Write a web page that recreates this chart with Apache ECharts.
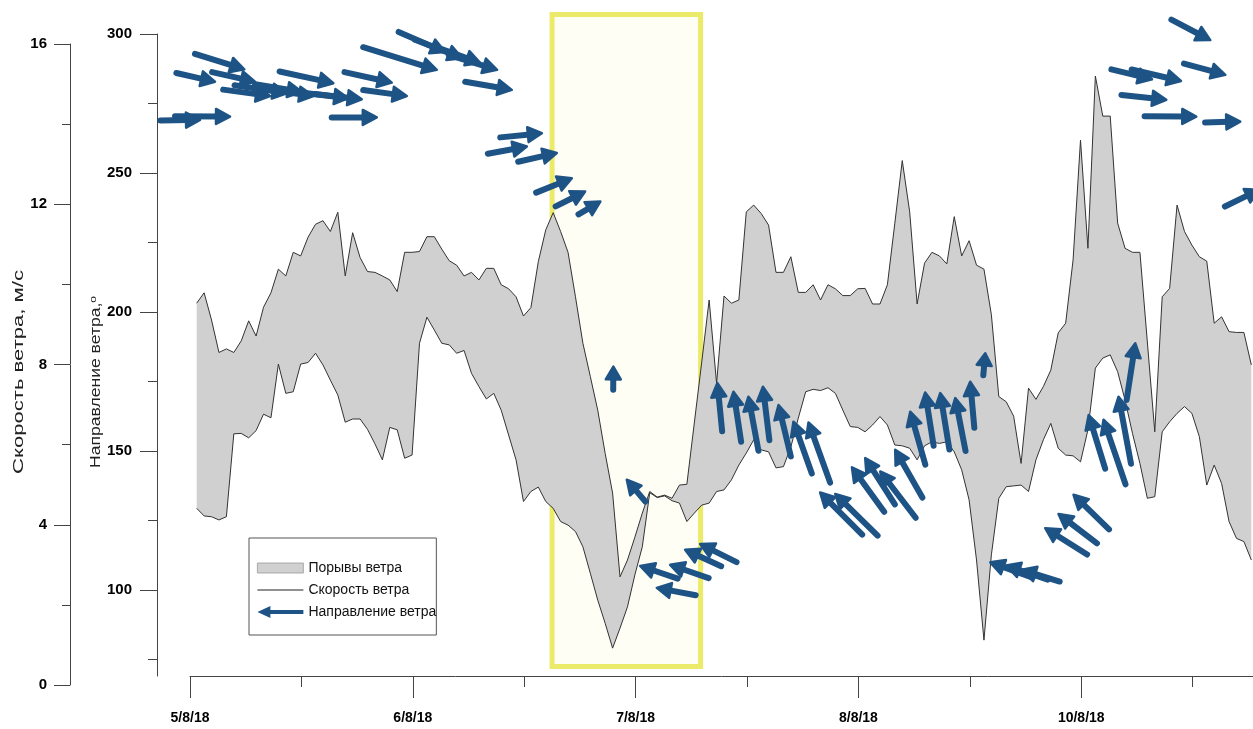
<!DOCTYPE html>
<html>
<head>
<meta charset="utf-8">
<script src="https://cdn.jsdelivr.net/npm/echarts@6/dist/echarts.min.js"></script>
<style>html,body{margin:0;padding:0;background:#fff}#chart{width:1253px;height:729px}</style>
</head>
<body>
<div id="chart"></div>
<script>
// ---------------- data ----------------
const dayLabels = ['5/8/18', '6/8/18', '7/8/18', '8/8/18', '10/8/18'];
const dayTickHours = [0, 24, 48, 72, 96];
const halfDayTickHours = [12, 36, 60, 84, 108];
const dirTicks = [100, 150, 200, 250, 300];
const dirMinorTicks = [75, 125, 175, 225, 275];
const speedTitle = 'Скорость ветра, м/с';
const dirTitle = 'Направление ветра,';
const dirTitleSup = 'о';
const START_H = 0.72;   // first sample, hours after 5/8/18 00:00
const STEP_H = 0.8;     // sampling step, hours

// wind gusts, m/s
const gust = [9.53,9.79,9.11,8.30,8.39,8.30,8.59,9.09,8.71,9.43,
9.79,10.38,10.21,10.80,10.71,11.18,11.50,11.59,11.32,11.80,
10.21,11.29,10.67,10.32,10.30,10.21,10.11,9.82,10.80,10.80,
10.82,11.19,11.19,10.88,10.59,10.48,10.21,10.30,10.11,10.40,
10.40,9.99,9.89,9.69,9.21,9.42,10.57,11.36,11.79,11.32,
10.80,9.69,8.53,7.70,6.86,5.78,4.79,2.70,3.12,3.69,
4.29,4.83,4.69,4.74,4.66,4.99,5.01,6.54,8.06,9.61,
7.53,9.71,9.53,9.61,11.81,11.98,11.77,11.48,10.30,10.30,
10.69,9.80,9.80,9.99,9.61,9.99,9.89,9.72,9.72,9.89,
9.90,9.51,9.51,9.99,11.53,13.09,11.81,9.51,10.53,10.80,
10.71,10.51,11.69,10.71,11.09,10.48,10.38,9.24,7.20,7.07,
6.71,5.53,7.41,7.13,7.45,7.86,8.79,9.03,10.61,13.60,
10.90,15.20,14.20,14.20,11.53,10.90,10.80,10.80,8.56,6.32,
9.69,9.90,11.98,11.32,10.98,10.69,10.58,9.03,9.19,8.82,
8.80,8.80,7.99];

// wind speed, m/s
const speed = [4.41,4.22,4.20,4.12,4.20,6.27,6.28,6.17,6.35,6.76,
6.67,8.01,7.28,7.32,8.01,8.05,8.28,7.99,7.61,7.24,
6.56,6.64,6.64,6.38,6.02,5.62,6.43,6.37,5.66,5.74,
8.53,9.18,8.86,8.53,8.49,8.28,8.35,7.78,7.45,7.14,
7.28,6.86,6.24,5.62,4.58,4.83,4.94,4.58,4.41,4.08,
3.99,3.83,3.45,2.79,2.12,1.54,0.92,1.42,1.95,2.75,
3.45,4.80,4.68,4.72,4.60,4.54,4.08,4.29,4.49,4.54,
4.83,4.87,5.12,5.49,5.79,6.12,5.87,5.82,5.42,5.45,
5.94,6.66,7.32,7.38,7.35,7.42,7.28,6.86,6.45,6.43,
6.32,6.49,6.70,6.49,5.99,5.97,5.91,5.62,5.97,6.07,
6.03,6.07,5.82,5.37,4.62,3.12,1.12,3.25,4.66,4.95,
4.97,4.99,4.83,5.62,6.12,6.53,5.91,5.74,5.72,5.57,
6.37,7.91,8.16,8.24,7.82,7.11,6.28,5.53,4.66,4.70,
6.32,6.57,6.78,6.95,6.78,6.20,4.99,5.49,5.03,4.08,
3.66,3.58,3.12];

// wind direction arrows: [hour, direction (deg), arrow magnitude]
const windArrows = [
[1.08,269.1,3.6],[4.31,270.3,5.0],[5.85,287.3,4.7],[2.69,282.8,3.6],[7.0,282.8,4.0],
[8.62,277.7,4.3],[10.42,278.7,4.8],[12.04,279.2,4.3],[13.28,277.7,4.5],[15.44,282.3,5.0],
[17.06,276.9,4.0],[18.5,276.5,4.3],[21.73,282.5,4.4],[23.35,277.7,4.0],[20.12,270.0,4.1],
[26.58,287.1,7.0],[27.47,293.5,4.6],[29.31,291.3,4.6],[31.25,289.6,4.6],[33.08,287.1,4.6],
[34.66,279.9,4.3],[37.9,264.3,3.8],[36.28,259.5,3.6],[39.51,257.2,3.6],[41.13,248.1,3.5],
[42.56,243.3,3.0],[44.2,239.7,2.3],
[45.6,180.3,2.1],[47.05,139.6,2.6],[48.49,108.6,3.6],[51.72,109.0,3.7],[50.28,100.7,3.6],
[53.33,114.4,3.6],[54.95,116.5,3.7],
[56.81,174.4,4.4],[58.54,171.3,4.6],[60.15,169.5,5.0],[61.71,173.1,4.9],[63.39,166.5,4.8],
[65.0,160.5,5.0],[66.62,160.2,5.8],[67.88,135.0,5.4],[69.5,134.5,5.4],[71.3,144.1,5.0],
[72.73,147.4,5.0],[74.35,142.6,5.3],[75.96,150.4,5.0],[77.58,164.1,5.0],[79.19,171.0,4.9],
[80.81,170.8,5.2],[82.43,169.0,4.9],[84.04,174.9,4.2],[85.66,185.1,2.0],
[86.2,109.9,4.1],[87.9,108.8,4.0],[89.6,107.2,3.6],[92.12,122.2,4.5],[93.55,127.3,4.4],
[95.17,134.2,4.5],[96.8,162.9,5.1],[98.4,161.2,6.2],[100.02,169.5,6.2],[101.82,188.7,5.2],
[109.9,297.8,4.0],[103.62,283.7,3.8],[106.74,283.1,4.6],[111.52,285.3,3.9],[105.16,276.3,4.1],
[108.39,270.3,4.7],[113.13,268.5,3.2],[115.2,244.0,3.5]
];

const highlightHours = [39, 55];   // highlighted period

// ---------------- layout / style constants ----------------
const X_MAX = 114.5;
const DIR_MIN = 69;
const ARROW_PX = 11;     // pixels per arrow-magnitude unit
const HEAD_LEN = 14, HEAD_HALF = 7.5, SHAFT_W = 6;
const ARROW_COLOR = '#1e5385';
const BAND_COLOR = '#d0d0d0';
const AXIS_COLOR = '#444';
const SANS = "'Liberation Sans', Arial, sans-serif";

// stretched axis titles (as in the original figure)
const SPEED_TITLE_FONT = 14.5, DIR_TITLE_FONT = 14, DIR_SUP_FONT = 9.5;
const SPEED_TITLE_LEN = 204, DIR_TITLE_LEN = 172;
const mctx = document.createElement('canvas').getContext('2d');
function textW(t, size) { mctx.font = size + 'px ' + SANS; return mctx.measureText(t).width; }
const speedTitleScale = SPEED_TITLE_LEN / textW(speedTitle, SPEED_TITLE_FONT);
const dirTitleScale = DIR_TITLE_LEN / (textW(dirTitle, DIR_TITLE_FONT) + textW(dirTitleSup, DIR_SUP_FONT));

const sampleHours = speed.map((_, i) => START_H + i * STEP_H);
const gustData = sampleHours.map((t, i) => [t, gust[i]]);
const speedData = sampleHours.map((t, i) => [t, speed[i]]);
const bandData = sampleHours.map((t, i) => [t, gust[i], speed[i]]);

const chart = echarts.init(document.getElementById('chart'), null, {renderer: 'canvas'});

const hiddenX = (gridIndex) => ({
  type: 'value', gridIndex, min: 0, max: X_MAX, show: false, splitLine: {show: false}
});

const option = {
  animation: false,
  backgroundColor: '#fff',
  grid: [
    {left: 190, right: 0, top: 44, bottom: 44, containLabel: false, outerBoundsMode: 'none'},
    {left: 190, right: 0, top: 34, bottom: 53, containLabel: false, outerBoundsMode: 'none'},
    {left: 190, right: 0, top: 14.5, bottom: 62.5, containLabel: false, outerBoundsMode: 'none'}
  ],
  graphic: [
    {
      type: 'text', x: 18.5, y: 372, rotation: Math.PI / 2, scaleX: speedTitleScale, silent: true,
      style: {
        text: speedTitle, fill: '#222', fontFamily: SANS, fontSize: SPEED_TITLE_FONT,
        font: SPEED_TITLE_FONT + 'px ' + SANS,
        align: 'center', verticalAlign: 'middle', textAlign: 'center', textVerticalAlign: 'middle'
      }
    },
    {
      type: 'text', x: 96, y: 382, rotation: Math.PI / 2, scaleX: dirTitleScale, silent: true,
      style: {
        text: dirTitle + '{sup|' + dirTitleSup + '}', fill: '#222', fontFamily: SANS, fontSize: DIR_TITLE_FONT,
        font: DIR_TITLE_FONT + 'px ' + SANS,
        align: 'center', verticalAlign: 'middle', textAlign: 'center', textVerticalAlign: 'middle',
        rich: {sup: {fontFamily: SANS, fontSize: DIR_SUP_FONT, fill: '#222', verticalAlign: 'top', lineHeight: 16}}
      }
    }
  ],
  legend: {
    orient: 'vertical',
    left: 249, top: 538,
    padding: [23, 0, 16, 8],
    itemGap: 8,
    itemWidth: 46, itemHeight: 12,
    borderColor: '#555', borderWidth: 1,
    backgroundColor: '#fff',
    selectedMode: false,
    textStyle: {fontFamily: SANS, fontSize: 14, color: '#111'},
    data: [
      {name: 'Порывы ветра', icon: 'path://M0,0M0,1L46,1L46,11L0,11ZM46,12', itemStyle: {color: BAND_COLOR, borderColor: '#9a9a9a', borderWidth: 0.8}},
      {name: 'Скорость ветра', icon: 'path://M0,0M0,5.5L46,5.5L46,6.5L0,6.5ZM46,12', itemStyle: {color: '#222', borderWidth: 0}},
      {name: 'Направление ветра', icon: 'path://M0,6L13,0L13,4L46,4L46,8L13,8L13,12Z', itemStyle: {color: ARROW_COLOR, borderWidth: 0}}
    ]
  },
  xAxis: [
    hiddenX(0),
    {
      type: 'value', gridIndex: 1, min: 0, max: X_MAX, position: 'bottom',
      axisLine: {show: true, onZero: false, lineStyle: {color: AXIS_COLOR, width: 1}},
      axisTick: {show: true, length: 22, customValues: dayTickHours, lineStyle: {color: AXIS_COLOR}},
      axisLabel: {
        show: true, customValues: dayTickHours, margin: 35,
        fontFamily: SANS, fontWeight: 'bold', fontSize: 14, color: '#000',
        formatter: (v) => { const k = dayTickHours.indexOf(v); return k >= 0 ? dayLabels[k] : ''; }
      },
      splitLine: {show: false}
    },
    {
      type: 'value', gridIndex: 1, min: 0, max: X_MAX, position: 'bottom',
      axisLine: {show: false, onZero: false},
      axisTick: {show: true, length: 11, customValues: halfDayTickHours, lineStyle: {color: AXIS_COLOR}},
      axisLabel: {show: false},
      splitLine: {show: false}
    },
    hiddenX(2)
  ],
  yAxis: [
    {
      type: 'value', gridIndex: 0, position: 'left', offset: 120,
      min: 0, max: 16, interval: 4,
      axisLine: {show: true, onZero: false, lineStyle: {color: AXIS_COLOR}},
      axisTick: {show: true, length: 16, lineStyle: {color: AXIS_COLOR}},
      minorTick: {show: true, splitNumber: 2, length: 8, lineStyle: {color: AXIS_COLOR}},
      axisLabel: {margin: 23, fontFamily: SANS, fontWeight: 'bold', fontSize: 15, color: '#000'},
      splitLine: {show: false}, minorSplitLine: {show: false}
    },
    {
      type: 'value', gridIndex: 1, position: 'left', offset: 33,
      min: DIR_MIN, max: 300,
      axisLine: {show: true, onZero: false, lineStyle: {color: AXIS_COLOR}},
      axisTick: {show: true, length: 17, customValues: dirTicks, lineStyle: {color: AXIS_COLOR}},
      axisLabel: {customValues: dirTicks, margin: 25, fontFamily: SANS, fontWeight: 'bold', fontSize: 15, color: '#000'},
      splitLine: {show: false}
    },
    {
      type: 'value', gridIndex: 1, position: 'left', offset: 33,
      min: DIR_MIN, max: 300,
      axisLine: {show: false, onZero: false},
      axisTick: {show: true, length: 9, customValues: dirMinorTicks, lineStyle: {color: AXIS_COLOR}},
      axisLabel: {show: false},
      splitLine: {show: false}
    },
    {type: 'value', gridIndex: 2, min: 0, max: 1, show: false, splitLine: {show: false}}
  ],
  series: [
    {
      name: 'Порывы ветра', type: 'custom', xAxisIndex: 0, yAxisIndex: 0, z: 1,
      itemStyle: {color: BAND_COLOR},
      data: bandData,
      encode: {x: 0, y: [1, 2]},
      renderItem: (params, api) => {
        if (params.dataIndex !== 0) return null;
        const upper = bandData.map(d => api.coord([d[0], d[1]]));
        const lower = bandData.map(d => api.coord([d[0], d[2]])).reverse();
        return {type: 'polygon', shape: {points: upper.concat(lower)}, style: {fill: BAND_COLOR}};
      }
    },
    {
      name: 'Порывы ветра', type: 'line', xAxisIndex: 0, yAxisIndex: 0, z: 3,
      data: gustData, symbol: 'none', showSymbol: false,
      lineStyle: {color: '#333', width: 1}, itemStyle: {color: BAND_COLOR}
    },
    {
      name: 'Скорость ветра', type: 'line', xAxisIndex: 0, yAxisIndex: 0, z: 3,
      data: speedData, symbol: 'none', showSymbol: false,
      lineStyle: {color: '#333', width: 1}, itemStyle: {color: '#222'}
    },
    {
      name: 'Направление ветра', type: 'custom', xAxisIndex: 1, yAxisIndex: 1, z: 4,
      itemStyle: {color: ARROW_COLOR},
      data: windArrows,
      encode: {x: 0, y: 1},
      renderItem: (params, api) => {
        const h = api.value(0), dir = api.value(1), mag = api.value(2);
        const tip = api.coord([h, dir]);
        const len = mag * ARROW_PX;
        const a = (270 - dir) * Math.PI / 180;
        const ux = Math.cos(a), uy = -Math.sin(a);
        const px = -uy, py = ux;
        const hl = Math.min(HEAD_LEN, len * 0.55);
        const bx = tip[0] - ux * hl, by = tip[1] - uy * hl;
        const tx = tip[0] - ux * len, ty = tip[1] - uy * len;
        return {
          type: 'group',
          children: [
            {type: 'line', shape: {x1: tx, y1: ty, x2: bx + ux * 2, y2: by + uy * 2},
             style: {stroke: ARROW_COLOR, lineWidth: SHAFT_W, lineCap: 'round'}},
            {type: 'polygon', shape: {points: [[tip[0], tip[1]], [bx + px * HEAD_HALF, by + py * HEAD_HALF], [bx - px * HEAD_HALF, by - py * HEAD_HALF]]},
             style: {fill: ARROW_COLOR, stroke: ARROW_COLOR, lineWidth: 2.5, lineJoin: 'round'}}
          ]
        };
      }
    },
    {
      name: 'highlight', type: 'line', xAxisIndex: 3, yAxisIndex: 3, z: 10, data: [],
      markArea: {
        silent: true,
        itemStyle: {color: 'rgba(255,250,170,0.12)', borderColor: 'rgba(232,230,80,0.85)', borderWidth: 5},
        data: [[{xAxis: highlightHours[0], yAxis: 0}, {xAxis: highlightHours[1], yAxis: 1}]]
      }
    }
  ]
};
chart.setOption(option);
</script>
</body>
</html>
